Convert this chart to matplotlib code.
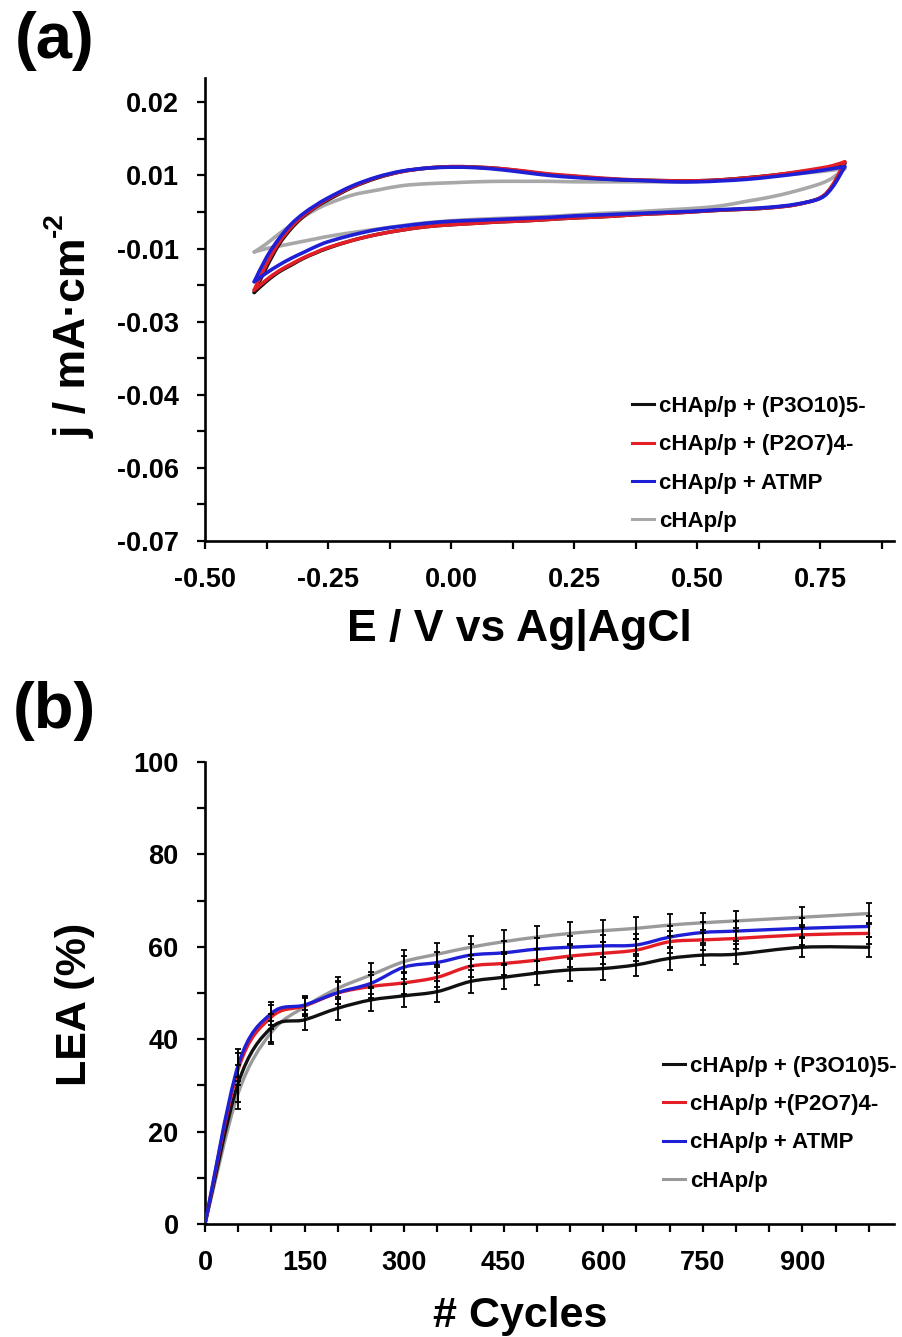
import numpy as np
import matplotlib
matplotlib.use("Agg")
import matplotlib.pyplot as plt
from matplotlib.path import Path
from matplotlib.patches import PathPatch
from matplotlib.lines import Line2D
from matplotlib.ticker import FixedLocator, FixedFormatter, MultipleLocator, FormatStrFormatter

plt.rcParams['font.family'] = ['Liberation Sans', 'DejaVu Sans']
plt.rcParams['font.weight'] = 'bold'

# ---------------- (a) cyclic voltammograms ----------------
E_fwd = [-0.40, -0.375, -0.35, -0.325, -0.30, -0.275, -0.25, -0.20, -0.15, -0.10, -0.05,
         0.00, 0.05, 0.10, 0.15, 0.20, 0.25, 0.30, 0.35, 0.40, 0.45, 0.50, 0.55, 0.60,
         0.65, 0.70, 0.75, 0.775, 0.80]
E_rev = [0.80, 0.775, 0.75, 0.70, 0.65, 0.60, 0.55, 0.50, 0.45, 0.40, 0.35, 0.30, 0.25,
         0.20, 0.15, 0.10, 0.05, 0.00, -0.05, -0.10, -0.15, -0.20, -0.25, -0.275, -0.30,
         -0.325, -0.35, -0.375, -0.40]

# anodic sweeps (E increasing)
j_p3o10_fwd = [-0.0190, -0.0138, -0.0092, -0.0059, -0.0034, -0.0015, 0.0000, 0.0026, 0.0045,
               0.0058, 0.0065, 0.0068, 0.0067, 0.0064, 0.0058, 0.0052, 0.0048, 0.0044, 0.0041,
               0.0040, 0.0039, 0.0039, 0.0041, 0.0045, 0.0050, 0.0056, 0.0063, 0.0068, 0.0075]
j_p2o7_fwd = [-0.0185, -0.0132, -0.0088, -0.0056, -0.0032, -0.0014, 0.0002, 0.0027, 0.0046,
              0.0058, 0.0065, 0.0068, 0.0067, 0.0064, 0.0059, 0.0053, 0.0049, 0.0045, 0.0042,
              0.0040, 0.0039, 0.0039, 0.0041, 0.0045, 0.0050, 0.0057, 0.0065, 0.0070, 0.0078]
j_atmp_fwd = [-0.0168, -0.0118, -0.0080, -0.0050, -0.0028, -0.0011, 0.0004, 0.0029, 0.0047,
              0.0059, 0.0065, 0.0067, 0.0066, 0.0062, 0.0056, 0.0050, 0.0046, 0.0043, 0.0041,
              0.0039, 0.0037, 0.0037, 0.0039, 0.0042, 0.0047, 0.0053, 0.0060, 0.0064, 0.0068]
j_bare_fwd = [-0.0107, -0.0090, -0.0070, -0.0052, -0.0035, -0.0020, -0.0008, 0.0010, 0.0020,
              0.0029, 0.0033, 0.0035, 0.0037, 0.0038, 0.0038, 0.0038, 0.0037, 0.0037, 0.0037,
              0.0037, 0.0037, 0.0038, 0.0041, 0.0045, 0.0049, 0.0053, 0.0058, 0.0061, 0.0064]

# cathodic sweeps (E decreasing from 0.80 V, on E_rev)
j_p3o10_rev = [0.0075, 0.0029, 0.0004, -0.0010, -0.0016, -0.0019, -0.0021, -0.0024, -0.0027,
               -0.0029, -0.0032, -0.0035, -0.0037, -0.0040, -0.0043, -0.0045, -0.0048, -0.0051,
               -0.0055, -0.0062, -0.0071, -0.0083, -0.0099, -0.0109, -0.0120, -0.0134, -0.0148,
               -0.0167, -0.0190]
j_p2o7_rev = [0.0078, 0.0030, 0.0004, -0.0010, -0.0016, -0.0019, -0.0021, -0.0024, -0.0027,
              -0.0029, -0.0032, -0.0035, -0.0037, -0.0040, -0.0043, -0.0045, -0.0048, -0.0051,
              -0.0055, -0.0062, -0.0071, -0.0083, -0.0098, -0.0108, -0.0119, -0.0132, -0.0146,
              -0.0164, -0.0185]
j_atmp_rev = [0.0068, 0.0026, 0.0003, -0.0009, -0.0015, -0.0018, -0.0020, -0.0023, -0.0025,
              -0.0027, -0.0029, -0.0031, -0.0033, -0.0036, -0.0038, -0.0040, -0.0042, -0.0044,
              -0.0048, -0.0054, -0.0061, -0.0072, -0.0086, -0.0096, -0.0108, -0.0120, -0.0134,
              -0.0150, -0.0168]
j_bare_rev = [0.0064, 0.0045, 0.0033, 0.0018, 0.0006, -0.0003, -0.0012, -0.0017, -0.0020,
              -0.0023, -0.0026, -0.0028, -0.0031, -0.0034, -0.0036, -0.0038, -0.0040, -0.0043,
              -0.0047, -0.0053, -0.0060, -0.0067, -0.0075, -0.0080, -0.0085, -0.0090, -0.0095,
              -0.0100, -0.0107]

# y-axis of (a): ticks every 0.015 from -0.07, labelled to two decimals
j_ticks = [-0.07, -0.055, -0.04, -0.025, -0.01, 0.005, 0.02]
j_ticklabels = ["-0.07", "-0.06", "-0.04", "-0.03", "-0.01", "0.01", "0.02"]
E_ticks = [-0.50, -0.25, 0.00, 0.25, 0.50, 0.75]

# ---------------- (b) LEA vs cycles ----------------
cycles = [0, 50, 100, 150, 200, 250, 300, 350, 400, 450, 500, 550, 600, 650, 700, 750, 800, 900, 1000]
lea_p3o10 = [0, 30.5, 42.5, 44.2, 46.7, 48.5, 49.4, 50.3, 52.5, 53.4, 54.3, 55.0, 55.3, 56.1, 57.5, 58.2, 58.4, 59.9, 59.9]
lea_p2o7 = [0, 33.5, 44.8, 47.2, 50.0, 51.4, 52.2, 53.4, 55.8, 56.4, 57.1, 58.0, 58.6, 59.3, 61.1, 61.5, 61.8, 62.6, 62.9]
lea_atmp = [0, 34.4, 45.6, 47.4, 50.1, 52.1, 55.6, 56.6, 58.2, 58.7, 59.5, 59.9, 60.2, 60.4, 62.1, 63.1, 63.4, 64.0, 64.4]
lea_bare = [0, 28.3, 41.5, 47.0, 51.0, 53.9, 56.8, 58.4, 59.9, 61.1, 62.1, 62.9, 63.5, 64.0, 64.7, 65.2, 65.6, 66.4, 67.2]
err_p3o10 = [0, 4.0, 3.0, 2.2, 2.5, 2.5, 2.5, 2.2, 2.5, 2.6, 2.6, 2.4, 2.5, 2.4, 2.5, 2.2, 2.2, 2.2, 2.2]
err_p2o7 = [0, 3.5, 2.5, 2.0, 2.4, 2.4, 2.4, 2.2, 2.4, 2.5, 2.5, 2.4, 2.4, 2.3, 2.4, 2.2, 2.2, 2.2, 2.2]
err_atmp = [0, 3.5, 2.5, 2.0, 2.4, 2.4, 2.5, 2.2, 2.4, 2.5, 2.5, 2.4, 2.4, 2.3, 2.4, 2.2, 2.2, 2.2, 2.2]
err_bare = [0, 3.5, 2.5, 2.0, 2.4, 2.5, 2.5, 2.4, 2.5, 2.6, 2.5, 2.4, 2.4, 2.4, 2.4, 2.2, 2.2, 2.2, 2.2]

labels_a = ["cHAp/p + (P3O10)5-", "cHAp/p + (P2O7)4-", "cHAp/p + ATMP", "cHAp/p"]
labels_b = ["cHAp/p + (P3O10)5-", "cHAp/p +(P2O7)4-", "cHAp/p + ATMP", "cHAp/p"]
colors_a = ["#111111", "#e41e26", "#1f1fd6", "#a8a8a8"]
colors_b = ["#111111", "#e41e26", "#1f1fd6", "#9a9a9a"]


def smooth_path(x, y):
    """Cubic Bezier path through the points (Catmull-Rom style, like a smoothed chart line)."""
    p = np.column_stack([x, y]).astype(float)
    n = len(p)
    ext = np.vstack([p[0], p, p[-1]])
    verts = [p[0]]
    codes = [Path.MOVETO]
    for i in range(n - 1):
        p0, p1, p2, p3 = ext[i], ext[i + 1], ext[i + 2], ext[i + 3]
        c1 = p1 + (p2 - p0) / 6.0
        c2 = p2 - (p3 - p1) / 6.0
        verts += [c1, c2, p2]
        codes += [Path.CURVE4] * 3
    return Path(verts, codes)


def add_curve(ax, x, y, color, lw, z):
    patch = PathPatch(smooth_path(x, y), facecolor="none", edgecolor=color, lw=lw,
                      capstyle="round", joinstyle="round", transform=ax.transData, zorder=z)
    ax.add_patch(patch)


def style_axes(ax):
    for side in ("top", "right"):
        ax.spines[side].set_visible(False)
    for side in ("left", "bottom"):
        ax.spines[side].set_linewidth(1.9)
    ax.tick_params(which="both", direction="out", length=6, width=1.6, colors="black")
    ax.tick_params(which="major", labelsize=19.5, pad=13)


fig = plt.figure(figsize=(9.03, 13.37), dpi=100)

# ---- panel (a)
ax1 = fig.add_axes([205 / 903, 1 - 541 / 1337, 689 / 903, 463 / 1337])
ax1.set_xlim(-0.5, 0.9)
ax1.set_ylim(-0.07, 0.025)
cv_sets = [
    (j_bare_fwd, j_bare_rev, colors_a[3], 2),
    (j_p3o10_fwd, j_p3o10_rev, colors_a[0], 3),
    (j_p2o7_fwd, j_p2o7_rev, colors_a[1], 4),
    (j_atmp_fwd, j_atmp_rev, colors_a[2], 5),
]
for jf, jr, c, z in cv_sets:
    add_curve(ax1, E_fwd, jf, c, 2.6, z)
    add_curve(ax1, E_rev, jr, c, 2.6, z)

style_axes(ax1)
ax1.xaxis.set_major_locator(FixedLocator(E_ticks))
ax1.xaxis.set_major_formatter(FormatStrFormatter("%.2f"))
ax1.xaxis.set_minor_locator(MultipleLocator(0.125))
ax1.yaxis.set_major_locator(FixedLocator(j_ticks))
ax1.yaxis.set_major_formatter(FixedFormatter(j_ticklabels))
ax1.yaxis.set_minor_locator(FixedLocator([t + 0.0075 for t in j_ticks[:-1]]))
ax1.set_xlabel("E / V vs Ag|AgCl", fontsize=32, fontweight="bold")
ax1.set_ylabel("j / mA\u00b7cm", fontsize=32, fontweight="bold")
ax1.xaxis.set_label_coords(0.457, -0.147)
ax1.yaxis.set_label_coords(-0.16, 0.438)

handles_a = [Line2D([], [], color=c, lw=2.2) for c in colors_a]
ax1.legend(handles_a, labels_a, loc="upper left", bbox_to_anchor=(0.62, 0.313), frameon=False,
           handlelength=1.0, handletextpad=0.2, labelspacing=0.78,
           borderpad=0, borderaxespad=0, prop={"weight": "bold", "size": 16})

# ---- panel (b)
ax2 = fig.add_axes([205 / 903, 1 - 1224 / 1337, 689 / 903, 462 / 1337])
ax2.set_xlim(0, 1038)
ax2.set_ylim(0, 100)
series_b = [
    (lea_p3o10, err_p3o10, colors_b[0], 3),
    (lea_bare, err_bare, colors_b[3], 2),
    (lea_p2o7, err_p2o7, colors_b[1], 4),
    (lea_atmp, err_atmp, colors_b[2], 5),
]
for vals, err, c, z in series_b:
    add_curve(ax2, cycles, vals, c, 2.4, z)
for vals, err, c, z in series_b:
    ax2.errorbar(cycles, vals, yerr=err, fmt="none", ecolor="black", elinewidth=1.3,
                 capsize=2.5, capthick=1.3, zorder=6)

style_axes(ax2)
ax2.xaxis.set_major_locator(MultipleLocator(150))
ax2.xaxis.set_minor_locator(MultipleLocator(50))
ax2.yaxis.set_major_locator(MultipleLocator(20))
ax2.yaxis.set_minor_locator(MultipleLocator(10))
ax2.set_xlabel("# Cycles", fontsize=31, fontweight="bold")
ax2.set_ylabel("LEA (%)", fontsize=31, fontweight="bold")
ax2.xaxis.set_label_coords(0.457, -0.155)
ax2.yaxis.set_label_coords(-0.16, 0.475)

handles_b = [Line2D([], [], color=c, lw=2.2) for c in colors_b]
ax2.legend(handles_b, labels_b, loc="upper left", bbox_to_anchor=(0.665, 0.364), frameon=False,
           handlelength=1.0, handletextpad=0.2, labelspacing=0.78,
           borderpad=0, borderaxespad=0, prop={"weight": "bold", "size": 16})

# panel letters
fig.text(15 / 903, 1 - 11 / 1337, "(a)", fontsize=47, fontweight="bold", va="top", ha="left")
fig.text(13 / 903, 1 - 681 / 1337, "(b)", fontsize=47, fontweight="bold", va="top", ha="left")

# superscript "-2" after the rotated y label of (a)
fig.canvas.draw()
bb = ax1.yaxis.label.get_window_extent()
W, H = fig.bbox.width, fig.bbox.height
base_x = bb.x1 - 0.21 * 32 * fig.dpi / 72.0
fig.text((base_x - 24) / W, (bb.y1 + 1) / H, "-2", rotation=90, rotation_mode="anchor",
         ha="left", va="baseline", fontsize=20, fontweight="bold")

fig.savefig("out.png", dpi=100)
